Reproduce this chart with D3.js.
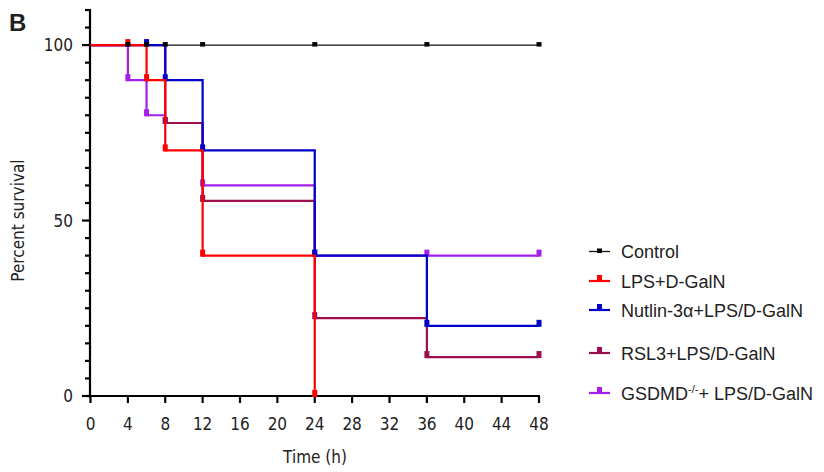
<!DOCTYPE html>
<html lang="en">
<head>
<meta charset="UTF-8">
<title>Percent survival</title>
<script src="https://d3js.org/d3.v7.min.js"></script>
<style>
    body { margin: 0; background: #fff; }
    .tick-label { font-family: "DejaVu Sans Condensed", "DejaVu Sans", sans-serif; font-size: 17px; fill: #222; }
    .legend text { font-family: "Liberation Sans", Arial, sans-serif; font-size: 18px; fill: #222; }
</style>
</head>
<body>
<svg width="824" height="472"></svg>
<script>
    // data (time in h, percent survival)
    var xTicks = [0, 4, 8, 12, 16, 20, 24, 28, 32, 36, 40, 44, 48];
    var yMajor = [0, 50, 100];

    var controlT = [0, 4, 6, 8, 12, 24, 36, 48];
    var controlV = [100, 100, 100, 100, 100, 100, 100, 100];

    var lpsT = [0, 4, 6, 8, 12, 24];
    var lpsV = [100, 100, 90, 70, 40, 0];

    var nutlinT = [0, 6, 8, 12, 24, 36, 48];
    var nutlinV = [100, 100, 90, 70, 40, 20, 20];

    var rslT = [0, 8, 12, 24, 36, 48];
    var rslV = [100, 77.8, 55.6, 22.2, 11.1, 11.1];

    var gsdmdT = [0, 4, 6, 8, 12, 24, 36, 48];
    var gsdmdV = [100, 90, 80, 77.8, 60, 40, 40, 40];

    // draw order bottom -> top
    var series = [
        {name: "GSDMD", t: gsdmdT, v: gsdmdV, color: "#a51fe6"},
        {name: "RSL3", t: rslT, v: rslV, color: "#9c0e4f"},
        {name: "Nutlin", t: nutlinT, v: nutlinV, color: "#0000c8"},
        {name: "LPS", t: lpsT, v: lpsV, color: "#ff0000"}
    ];

    var svg = d3.select("svg");

    var x = d3.scaleLinear().domain([0, 48]).range([90.5, 539]);
    var y = d3.scaleLinear().domain([0, 110]).range([396, 10]);

    // panel letter
    svg.append("text")
        .attr("x", 9).attr("y", 31)
        .attr("font-family", "Liberation Sans, Arial, sans-serif")
        .attr("font-weight", "bold")
        .attr("font-size", "24px")
        .attr("fill", "#222")
        .text("B");

    // x axis
    var xa = svg.append("g").attr("transform", "translate(0,396)");
    xa.append("line").attr("x1", 88).attr("x2", x(48) + 1)
        .attr("stroke", "#000").attr("stroke-width", 2.2);
    xTicks.forEach(function (d) {
        xa.append("line").attr("x1", x(d)).attr("x2", x(d)).attr("y1", 0).attr("y2", 7)
            .attr("stroke", "#000").attr("stroke-width", 2.2);
        xa.append("text").attr("class", "tick-label")
            .attr("x", x(d)).attr("y", 34)
            .attr("text-anchor", "middle")
            .text(d);
    });
    svg.append("text").attr("class", "tick-label")
        .attr("x", 315).attr("y", 463)
        .attr("text-anchor", "middle")
        .text("Time (h)");

    // y axis
    var ya = svg.append("g").attr("transform", "translate(90,0)");
    ya.append("line").attr("y1", y(110) - 1).attr("y2", y(0) + 2)
        .attr("stroke", "#000").attr("stroke-width", 2.2);
    d3.range(0, 111, 5).forEach(function (d) {
        var major = yMajor.indexOf(d) >= 0;
        ya.append("line").attr("x1", major ? -8 : -5).attr("x2", 0)
            .attr("y1", y(d)).attr("y2", y(d))
            .attr("stroke", "#000").attr("stroke-width", 2.2);
    });
    yMajor.forEach(function (d) {
        ya.append("text").attr("class", "tick-label")
            .attr("x", -17).attr("y", y(d))
            .attr("dy", "0.36em")
            .attr("text-anchor", "end")
            .text(d);
    });
    svg.append("text").attr("class", "tick-label")
        .attr("transform", "translate(24," + y(50) + ") rotate(-90)")
        .attr("text-anchor", "middle")
        .text("Percent survival");

    var line = d3.line()
        .x(function (d) { return x(d[0]); })
        .y(function (d) { return y(d[1]); })
        .curve(d3.curveStepAfter);

    // control line
    svg.append("path")
        .datum(d3.zip(controlT, controlV))
        .attr("d", line)
        .attr("fill", "none")
        .attr("stroke", "#111")
        .attr("stroke-width", 1.3);

    series.forEach(function (s) {
        var pts = d3.zip(s.t, s.v);
        svg.append("path")
            .datum(pts)
            .attr("d", line)
            .attr("fill", "none")
            .attr("stroke", s.color)
            .attr("stroke-width", 2.2);
        svg.selectAll(null)
            .data(pts.slice(1))
            .enter().append("rect")
            .attr("x", function (d) { return x(d[0]) - 2.5; })
            .attr("y", function (d) { return y(d[1]) - 6; })
            .attr("width", 5)
            .attr("height", 7)
            .attr("fill", s.color);
    });

    // control markers on top
    svg.selectAll(null)
        .data(d3.zip(controlT, controlV).slice(1))
        .enter().append("rect")
        .attr("x", function (d) { return x(d[0]) - 2.5; })
        .attr("y", function (d) { return y(d[1]) - 3; })
        .attr("width", 5)
        .attr("height", 4.5)
        .attr("fill", "#000");

    // legend
    var legendItems = [
        {label: "Control", color: "#111", y: 251.5, control: true},
        {label: "LPS+D-GalN", color: "#ff0000", y: 281},
        {label: "Nutlin-3α+LPS/D-GalN", color: "#0000c8", y: 310},
        {label: "RSL3+LPS/D-GalN", color: "#9c0e4f", y: 353},
        {label: "GSDMD", color: "#a51fe6", y: 393, sup: "-/-", rest: "+ LPS/D-GalN"}
    ];
    var lg = svg.append("g").attr("class", "legend");
    legendItems.forEach(function (it) {
        var g = lg.append("g").attr("transform", "translate(0," + it.y + ")");
        g.append("line").attr("x1", 589).attr("x2", 610)
            .attr("stroke", it.color).attr("stroke-width", it.control ? 1.3 : 2.2);
        if (it.control) {
            g.append("rect").attr("x", 597).attr("y", -3).attr("width", 5).attr("height", 4.5).attr("fill", "#000");
        } else {
            g.append("rect").attr("x", 597).attr("y", -6).attr("width", 5).attr("height", 7).attr("fill", it.color);
        }
        var t = g.append("text").attr("x", 621).attr("y", 6.5);
        if (it.sup) {
            t.append("tspan").text(it.label);
            t.append("tspan").attr("dy", -7).attr("font-size", "11px").text(it.sup);
            t.append("tspan").attr("dy", 7).text(it.rest);
        } else {
            t.text(it.label);
        }
    });
</script>
</body>
</html>
